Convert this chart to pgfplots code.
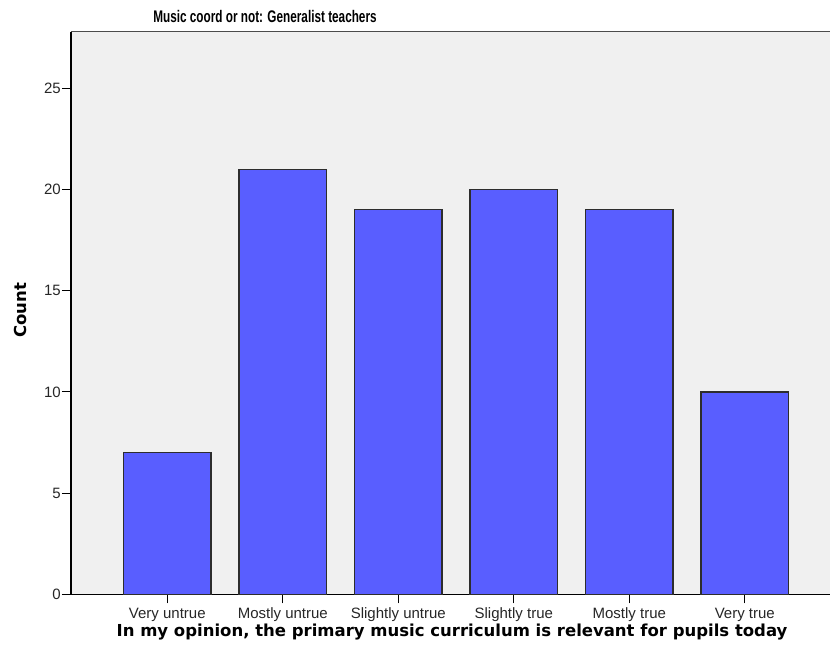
\documentclass[border=0pt]{standalone}
\usepackage{fontspec}
\setmainfont{Liberation Sans}
\newfontfamily\narrowfont[FakeStretch=0.70]{Liberation Sans}
\newfontfamily\labelfont{DejaVu Sans}
\usepackage{pgfplots}
\pgfplotsset{compat=1.18}
\definecolor{barblue}{RGB}{89,94,255}
\definecolor{plotbg}{RGB}{240,240,240}
\definecolor{baredge}{RGB}{45,45,45}
\begin{document}
\begin{tikzpicture}[x=1pt,y=1pt]
  \path[use as bounding box] (-71,-65.7) rectangle (759,594.3);
  \begin{axis}[
    at={(0,0)}, anchor=south west,
    scale only axis,
    width=759pt, height=562.6pt,
    axis lines*=left,
    axis line style={black, line width=1.2pt},
    axis background/.style={fill=plotbg},
    xmin=-0.834, xmax=5.738,
    ymin=0, ymax=27.8,
    xtick=data,
    xticklabels={Very untrue, Mostly untrue, Slightly untrue, Slightly true, Mostly true, Very true},
    ytick={0,5,10,15,20,25},
    tick align=outside,
    major tick length=9pt,
    tick style={black, line width=1pt},
    /pgf/number format/assume math mode=true,
    tick label style={font=\fontsize{15}{18}\selectfont, text=black!85},
    xticklabel style={inner sep=1pt, yshift=-3.5pt},
    yticklabel style={inner sep=1pt},
    ybar,
    bar width=0.757,
    title={\narrowfont\bfseries Music coord or not: Generalist teachers},
    every axis title shift=0pt,
    title style={at={(rel axis cs:0.2556,1.0279)}, anchor=center, font=\fontsize{16.8}{20}\selectfont},
    xlabel={\labelfont\bfseries In my opinion, the primary music curriculum is relevant for pupils today},
    xlabel style={at={(rel axis cs:0.502,-0.0665)}, anchor=center, font=\fontsize{16.5}{20}\selectfont},
    ylabel={\labelfont\bfseries Count},
    ylabel style={at={(rel axis cs:-0.0659,0.505)}, anchor=center, font=\fontsize{16.5}{20}\selectfont},
  ]
    \addplot[fill=barblue, draw=baredge, line width=1.2pt] coordinates {
      (0,7) (1,21) (2,19) (3,20) (4,19) (5,10)
    };
    \draw[black!70, line width=1.5pt] (rel axis cs:0,1) -- (rel axis cs:1,1);
  \end{axis}
\end{tikzpicture}
\end{document}
